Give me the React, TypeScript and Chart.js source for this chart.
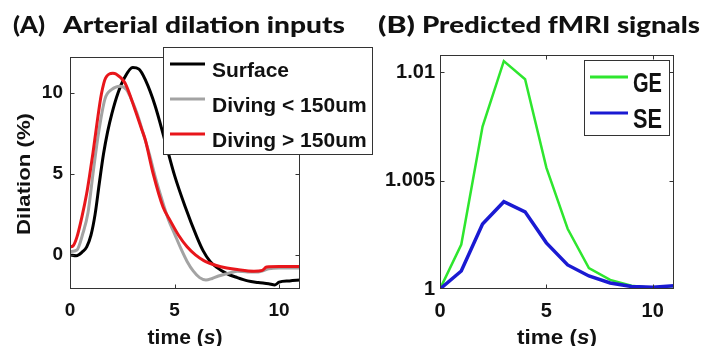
import React, { useEffect, useRef } from "react";
import { Chart, registerables } from "chart.js";

Chart.register(...registerables);

// ---------- Panel A data: arterial dilation (%) vs time (s) ----------
const surfaceT = [0, 0.3, 0.6, 0.8, 1.0, 1.2, 1.4, 1.6, 1.8, 2.0, 2.3, 2.6, 3.0, 3.3, 3.6, 4.07, 4.55, 5.0, 5.5, 6.07, 6.37, 6.7, 7.0, 7.5, 8.0, 8.5, 9.0, 9.5, 9.8, 10.0, 10.5, 11];
const surfaceV = [0, -0.05, 0.2, 0.5, 1.2, 2.5, 4.4, 6.2, 7.6, 8.7, 10.0, 10.9, 11.55, 11.45, 10.8, 9.2, 7.0, 4.9, 3.0, 1.1, 0.25, -0.4, -0.75, -1.15, -1.4, -1.6, -1.7, -1.78, -1.85, -1.68, -1.6, -1.55];

const shallowT = [0, 0.33, 0.62, 0.86, 1.1, 1.34, 1.67, 2.0, 2.4, 2.7, 2.9, 3.2, 3.5, 3.8, 4.1, 4.4, 4.7, 5.0, 5.3, 5.6, 5.9, 6.2, 6.5, 6.8, 7.1, 7.5, 7.8, 8.0, 8.5, 9.0, 9.5, 10.0, 11];
const shallowV = [0.2, 0.3, 1.35, 2.6, 5.0, 7.3, 9.6, 10.2, 10.4, 10.2, 9.7, 8.75, 7.5, 6.2, 4.7, 3.4, 2.2, 1.3, 0.4, -0.4, -1.0, -1.4, -1.55, -1.45, -1.3, -1.15, -1.05, -1.0, -1.05, -1.05, -0.85, -0.8, -0.8];

const deepT = [0, 0.14, 0.33, 0.57, 0.8, 0.95, 1.1, 1.3, 1.5, 1.7, 2.05, 2.2, 2.63, 3.11, 3.44, 3.6, 3.97, 4.45, 4.8, 5.2, 5.6, 6.0, 6.4, 7.0, 7.5, 8.0, 8.8, 9.2, 9.4, 10.0, 11];
const deepV = [0.5, 0.55, 1.1, 2.35, 3.8, 5.0, 6.3, 8.2, 9.9, 10.9, 11.2, 11.15, 10.6, 8.95, 7.7, 7.1, 5.05, 2.96, 2.1, 1.2, 0.5, 0.0, -0.35, -0.65, -0.8, -0.9, -1.0, -0.95, -0.75, -0.72, -0.72];

const labelsA = ["Surface", "Diving < 150um", "Diving > 150um"];
const xTicksA = [0, 5, 10];
const yTicksA = [0, 5, 10];

// ---------- Panel B data: predicted fMRI signals ----------
const timeB = [0, 1, 2, 3, 4, 5, 6, 7, 8, 9, 10, 11];
const geValues = [1.0, 1.00205, 1.0075, 1.01052, 1.00968, 1.0056, 1.00278, 1.00097, 1.00042, 1.00015, 1.00005, 1.0];
const seValues = [1.0, 1.00083, 1.003, 1.00403, 1.00356, 1.00213, 1.00111, 1.0006, 1.00028, 1.00012, 1.00008, 1.00015];
const labelsB = ["GE", "SE"];
const xTicksB = [0, 5, 10];
const yTicksB = [1, 1.005, 1.01];
const yTickLabelsB = ["1", "1.005", "1.01"];

const SANS = "'Liberation Sans', Arial, sans-serif";
const TITLE = "Lato, 'Open Sans', sans-serif";

function pts(t: number[], v: number[]) {
  return t.map((x, i) => ({ x, y: v[i] }));
}

function fitText(ctx: CanvasRenderingContext2D, text: string, x: number, y: number, targetW: number, font: string, scaleY = 1) {
  ctx.save();
  ctx.font = font;
  ctx.textAlign = "left";
  ctx.textBaseline = "alphabetic";
  const w = ctx.measureText(text).width;
  ctx.translate(x, y);
  ctx.scale(targetW / w, scaleY);
  ctx.fillStyle = "#111";
  ctx.fillText(text, 0, 0);
  ctx.restore();
}

function drawTimeLabel(ctx: CanvasRenderingContext2D, cx: number, baseline: number, targetW: number, size: number) {
  const parts: [string, string][] = [
    ["time (", `bold ${size}px ${SANS}`],
    ["s", `italic bold ${size}px ${SANS}`],
    [")", `bold ${size}px ${SANS}`],
  ];
  ctx.save();
  ctx.textAlign = "left";
  ctx.textBaseline = "alphabetic";
  ctx.fillStyle = "#111";
  let total = 0;
  const widths = parts.map(([t, f]) => {
    ctx.font = f;
    const w = ctx.measureText(t).width;
    total += w;
    return w;
  });
  ctx.translate(cx - targetW / 2, baseline);
  ctx.scale(targetW / total, 1);
  let x = 0;
  parts.forEach(([t, f], i) => {
    ctx.font = f;
    ctx.fillText(t, x, 0);
    x += widths[i];
  });
  ctx.restore();
}

function drawFrame(chart: any, xt: number[], yt: number[]) {
  const { ctx, chartArea: a, scales } = chart;
  ctx.save();
  ctx.strokeStyle = "#333";
  ctx.lineWidth = 1;
  const l = Math.round(a.left) + 0.5;
  const r = Math.round(a.right) - 0.5;
  const t = Math.round(a.top) + 0.5;
  const b = Math.round(a.bottom) - 0.5;
  ctx.strokeRect(l, t, r - l, b - t);
  const L = 4;
  ctx.beginPath();
  xt.forEach((v) => {
    const px = Math.round(scales.x.getPixelForValue(v)) + 0.5;
    if (px > l + 1 && px < r - 1) {
      ctx.moveTo(px, b);
      ctx.lineTo(px, b - L);
      ctx.moveTo(px, t);
      ctx.lineTo(px, t + L);
    }
  });
  yt.forEach((v) => {
    const py = Math.round(scales.y.getPixelForValue(v)) + 0.5;
    if (py > t + 1 && py < b - 1) {
      ctx.moveTo(l, py);
      ctx.lineTo(l + L, py);
      ctx.moveTo(r, py);
      ctx.lineTo(r - L, py);
    }
  });
  ctx.stroke();
  ctx.restore();
}

function linScale(min: number, max: number, ticks: number[], fontSize: number, padding: number, labels?: string[]) {
  return {
    type: "linear" as const,
    min,
    max,
    afterBuildTicks: (s: any) => {
      s.ticks = ticks.map((value) => ({ value }));
    },
    grid: { display: false, drawTicks: false },
    border: { display: false },
    ticks: {
      autoSkip: false,
      maxRotation: 0,
      padding,
      color: "#111",
      font: { family: SANS, size: fontSize, weight: "bold" as const },
      callback: (v: any, i: number) => (labels ? labels[i] : String(v)),
    },
  };
}

const panelAPlugin = {
  id: "panelA",
  afterDraw(chart: any) {
    const ctx: CanvasRenderingContext2D = chart.ctx;
    drawFrame(chart, xTicksA, yTicksA);
    // titles
    fitText(ctx, "(A)", 13, 33, 32, `900 23px ${TITLE}`);
    fitText(ctx, "Arterial dilation inputs", 63, 33, 282, `900 23px ${TITLE}`);
    // y axis title
    ctx.save();
    ctx.font = `bold 19px ${SANS}`;
    const w = ctx.measureText("Dilation (%)").width;
    ctx.translate(30, 174);
    ctx.rotate(-Math.PI / 2);
    ctx.scale(122 / w, 1);
    ctx.textAlign = "left";
    ctx.textBaseline = "alphabetic";
    ctx.fillStyle = "#111";
    ctx.fillText("Dilation (%)", -w / 2, 0);
    ctx.restore();
    drawTimeLabel(ctx, 185, 344, 75, 20);
    // legend
    ctx.save();
    ctx.fillStyle = "#fff";
    ctx.strokeStyle = "#333";
    ctx.lineWidth = 1;
    ctx.fillRect(163.5, 47.5, 209, 107);
    ctx.strokeRect(163.5, 47.5, 209, 107);
    const ds = chart.data.datasets;
    labelsA.forEach((lab, i) => {
      const d = ds.find((x: any) => x.label === lab);
      const base = 77 + i * 35;
      ctx.strokeStyle = d.borderColor;
      ctx.lineWidth = 3;
      ctx.beginPath();
      ctx.moveTo(170, base - 13);
      ctx.lineTo(205, base - 13);
      ctx.stroke();
      ctx.font = `bold 21px ${SANS}`;
      ctx.fillStyle = "#111";
      ctx.textAlign = "left";
      ctx.textBaseline = "alphabetic";
      ctx.fillText(lab, 212, base);
    });
    ctx.restore();
  },
};

const panelBPlugin = {
  id: "panelB",
  afterDraw(chart: any) {
    const ctx: CanvasRenderingContext2D = chart.ctx;
    drawFrame(chart, xTicksB, yTicksB);
    fitText(ctx, "(B)", 2, 33, 37, `900 23px ${TITLE}`);
    fitText(ctx, "Predicted fMRI signals", 46, 33, 278, `900 23px ${TITLE}`);
    drawTimeLabel(ctx, 181, 344, 80, 21);
    ctx.save();
    ctx.fillStyle = "#fff";
    ctx.strokeStyle = "#333";
    ctx.lineWidth = 1;
    ctx.fillRect(208.5, 60.5, 85, 75);
    ctx.strokeRect(208.5, 60.5, 85, 75);
    const ds = chart.data.datasets;
    labelsB.forEach((lab, i) => {
      const d = ds.find((x: any) => x.label === lab);
      const base = 92 + i * 36;
      ctx.strokeStyle = d.borderColor;
      ctx.lineWidth = 3;
      ctx.beginPath();
      ctx.moveTo(214, base - 15);
      ctx.lineTo(252, base - 15);
      ctx.stroke();
      fitText(ctx, lab, 257, base, 29, `bold 20px ${SANS}`, 1.4);
    });
    ctx.restore();
  },
};

export default function App() {
  const refA = useRef<HTMLCanvasElement>(null);
  const refB = useRef<HTMLCanvasElement>(null);

  useEffect(() => {
    const chartA = new Chart(refA.current!, {
      type: "line",
      data: {
        datasets: [
          { label: labelsA[2], data: pts(deepT, deepV), borderColor: "#e8161b", borderWidth: 3, pointRadius: 0, cubicInterpolationMode: "monotone" },
          { label: labelsA[1], data: pts(shallowT, shallowV), borderColor: "#a3a3a3", borderWidth: 3, pointRadius: 0, cubicInterpolationMode: "monotone" },
          { label: labelsA[0], data: pts(surfaceT, surfaceV), borderColor: "#000000", borderWidth: 3, pointRadius: 0, cubicInterpolationMode: "monotone" },
        ],
      },
      options: {
        responsive: false,
        animation: false,
        devicePixelRatio: 1,
        layout: { padding: { left: 0, top: 57, right: 76, bottom: 0 } },
        plugins: { legend: { display: false }, tooltip: { enabled: false }, title: { display: false } },
        scales: {
          x: { ...linScale(0, 11, xTicksA, 19, 10), afterFit: (s: any) => { s.height = 57; } },
          y: { ...linScale(-2.1, 12.2, yTicksA, 19, 7), afterFit: (s: any) => { s.width = 70; } },
        },
      },
      plugins: [panelAPlugin],
    } as any);

    const chartB = new Chart(refB.current!, {
      type: "line",
      data: {
        datasets: [
          { label: labelsB[1], data: pts(timeB, seValues), borderColor: "#1a1ad2", borderWidth: 3.5, pointRadius: 0, tension: 0 },
          { label: labelsB[0], data: pts(timeB, geValues), borderColor: "#2ee62e", borderWidth: 2.5, pointRadius: 0, tension: 0 },
        ],
      },
      options: {
        responsive: false,
        animation: false,
        devicePixelRatio: 1,
        layout: { padding: { left: 0, top: 55, right: 42, bottom: 0 } },
        plugins: { legend: { display: false }, tooltip: { enabled: false }, title: { display: false } },
        scales: {
          x: { ...linScale(0, 11, xTicksB, 20, 10), afterFit: (s: any) => { s.height = 57; } },
          y: { ...linScale(1, 1.0108, yTicksB, 20, 5, yTickLabelsB), afterFit: (s: any) => { s.width = 64; } },
        },
      },
      plugins: [panelBPlugin],
    } as any);

    return () => {
      chartA.destroy();
      chartB.destroy();
    };
  }, []);

  return (
    <div style={{ position: "fixed", left: 0, top: 0, width: 716, height: 346, background: "#fff", overflow: "hidden" }}>
      <canvas ref={refA} width={376} height={346} style={{ position: "absolute", left: 0, top: 0, width: 376, height: 346 }} />
      <canvas ref={refB} width={340} height={346} style={{ position: "absolute", left: 376, top: 0, width: 340, height: 346 }} />
    </div>
  );
}
